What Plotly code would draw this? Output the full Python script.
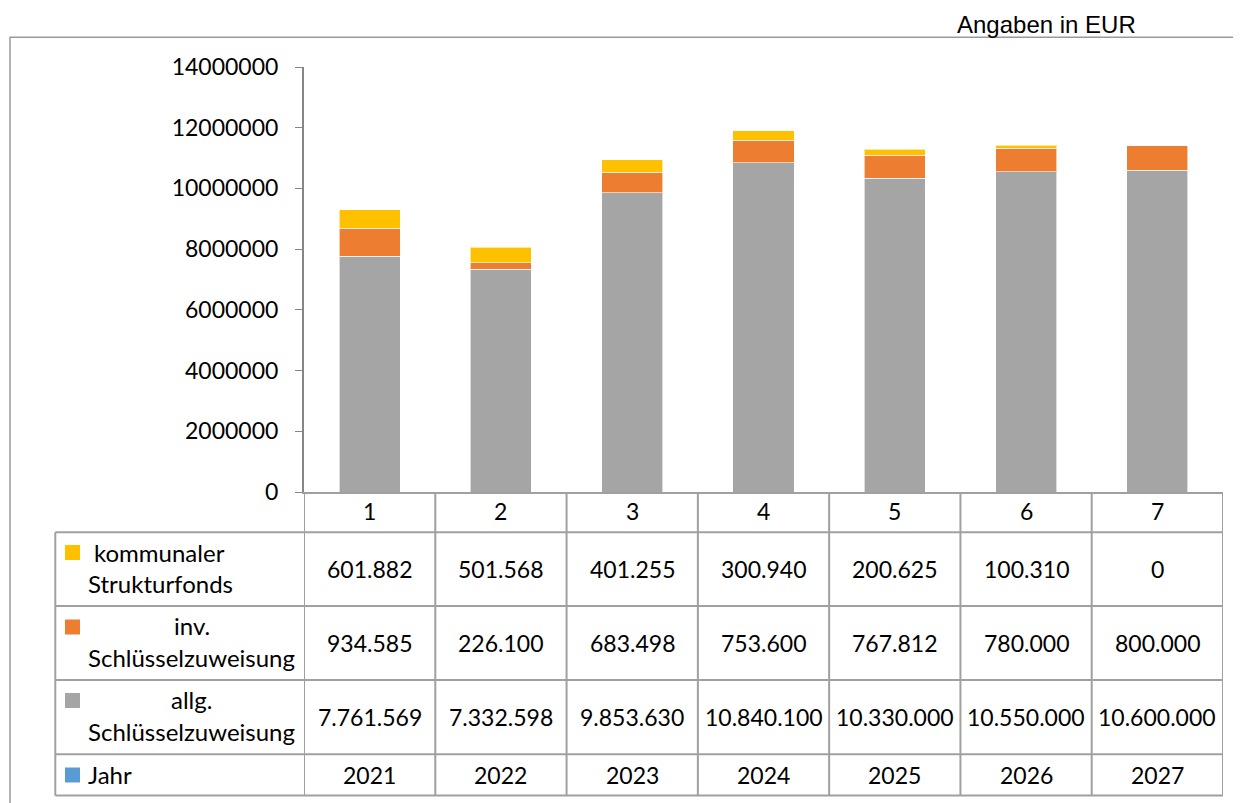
import plotly.graph_objects as go

categories = ["1", "2", "3", "4", "5", "6", "7"]
years = [2021, 2022, 2023, 2024, 2025, 2026, 2027]
allg = [7761569, 7332598, 9853630, 10840100, 10330000, 10550000, 10600000]
inv = [934585, 226100, 683498, 753600, 767812, 780000, 800000]
kom = [601882, 501568, 401255, 300940, 200625, 100310, 0]
y_ticks = [0, 2000000, 4000000, 6000000, 8000000, 10000000, 12000000, 14000000]

C_GRAY = "#A5A5A5"
C_ORANGE = "#ED7D31"
C_YELLOW = "#FFC000"
C_BLUE = "#5B9BD5"
LINE = "#A0A0A0"
FONT = "Lato"
FS = 23

OFF = 8  # page body margin
SW, SH = 1241, 803
W, H = SW - OFF, SH - OFF
# plot area in screen pixels
SX0, SX1, SY0, SY1 = 304, 1223, 67, 492
L, R, T, B = SX0 - OFF, SW - SX1, SY0 - OFF, SH - SY1
PW, PH = SX1 - SX0, SY1 - SY0


def px(x):
    return (x - SX0) / PW


def py(y):
    return (SY1 - y) / PH


def fmt(v):
    return f"{v:,}".replace(",", ".")


fig = go.Figure()
for name, vals, col in [("allg. Schlüsselzuweisung", allg, C_GRAY),
                        ("inv. Schlüsselzuweisung", inv, C_ORANGE),
                        ("kommunaler Strukturfonds", kom, C_YELLOW)]:
    fig.add_trace(go.Bar(x=categories, y=vals, name=name, marker_color=col,
                         marker_line=dict(color="rgba(255,255,255,0.6)", width=1),
                         width=0.465))

shapes = []
# outer frame
shapes.append(dict(type="rect", xref="paper", yref="paper", x0=px(10), x1=px(1300),
                   y0=py(840), y1=py(37.3), line=dict(color="#9A9A9A", width=1.5)))
# table rows
row_y = [532.3, 606, 680, 754.3, 795.5]
for yy in row_y:
    shapes.append(dict(type="line", xref="paper", yref="paper",
                       x0=px(55.3), x1=1,
                       y0=py(yy), y1=py(yy), line=dict(color=LINE, width=2)))
# vertical boundaries
for i in range(len(categories) + 1):
    shapes.append(dict(type="line", xref="x", yref="paper", x0=i - 0.5, x1=i - 0.5,
                       y0=0, y1=py(795.5), line=dict(color=LINE, width=2)))
# left label column border
shapes.append(dict(type="line", xref="paper", yref="paper", x0=px(55.3), x1=px(55.3),
                   y0=py(532.3), y1=py(795.5), line=dict(color=LINE, width=2)))

ann = []
txt = dict(family=FONT, size=FS, color="#000000")
# header row
for i, c in enumerate(categories):
    ann.append(dict(x=i, y=py(510.5), xref="x", yref="paper", text=c, showarrow=False,
                    font=txt, xanchor="center", yanchor="middle"))
row_centers = [569, 643, 717, 775]
for vals, yc in zip([kom, inv, allg, years], row_centers):
    for i, v in enumerate(vals):
        t = str(v) if vals is years else fmt(v)
        ann.append(dict(x=i, y=py(yc), xref="x", yref="paper", text=t, showarrow=False,
                        font=txt, xanchor="center", yanchor="middle"))

# row labels with legend keys
for col, yc in zip([C_YELLOW, C_ORANGE, C_GRAY, C_BLUE], [552.5, 627, 700.5, 775]):
    shapes.append(dict(type="rect", xref="paper", yref="paper", x0=px(65), x1=px(80),
                       y0=py(yc - 7.5), y1=py(yc + 7.5), fillcolor=col, line=dict(width=0)))

labels = [("kommunaler", 92, 552, "left"), ("Strukturfonds", 86, 583, "left"),
          ("inv.", 192, 625, "center"), ("Schlüsselzuweisung", 86, 657, "left"),
          ("allg.", 191, 699, "center"), ("Schlüsselzuweisung", 86, 731, "left"),
          ("Jahr", 86, 774, "left")]
for t, x, y, anc in labels:
    ann.append(dict(x=px(x), y=py(y), xref="paper", yref="paper", text=t, showarrow=False,
                    font=dict(family=FONT, size=24, color="#000000"), xanchor=anc,
                    yanchor="middle"))

ann.append(dict(x=px(955), y=py(24), xref="paper", yref="paper", text="Angaben in EUR",
                showarrow=False, font=dict(family="Liberation Sans", size=24, color="#000000"),
                xanchor="left", yanchor="middle"))

fig.update_layout(
    width=W, height=H, barmode="stack", showlegend=False,
    margin=dict(l=L, r=R, t=T, b=B, autoexpand=False),
    paper_bgcolor="white", plot_bgcolor="white",
    xaxis=dict(type="category", range=[-0.5, 6.5], showticklabels=False, ticks="",
               showgrid=False, showline=True, linecolor=LINE, linewidth=2, zeroline=False),
    yaxis=dict(range=[0, 14000000], tickvals=y_ticks, ticktext=[str(v) for v in y_ticks],
               ticks="outside", ticklen=7, tickcolor="#868686", showgrid=False,
               showline=True, linecolor="#868686", linewidth=2, zeroline=False,
               tickfont=dict(family=FONT, size=FS, color="#000000"), ticklabelstandoff=12),
    shapes=shapes, annotations=ann,
)
fig.write_html("out.html")
